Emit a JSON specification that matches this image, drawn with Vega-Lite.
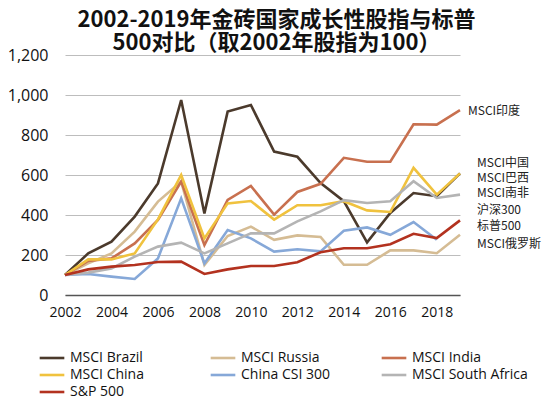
{
  "$schema": "https://vega.github.io/schema/vega-lite/v6.json",
  "autosize": {"type": "none"},
  "width": 395,
  "height": 240,
  "padding": {"left": 65, "top": 55, "right": 93, "bottom": 102},
  "background": "white",
  "config": {
    "font": "Open Sans, Noto Sans CJK SC",
    "view": {"stroke": null},
    "axisX": {
      "title": null, "values": [2002, 2004, 2006, 2008, 2010, 2012, 2014, 2016, 2018],
      "format": "d", "grid": false, "ticks": false, "domainColor": "#555555", "domainWidth": 1.5,
      "labelFontSize": 14, "labelColor": "#111111", "labelPadding": 10, "labelFont": "Open Sans",
      "labelOverlap": false, "labelFlush": false
    },
    "axisY": {
      "title": null, "values": [0, 200, 400, 600, 800, 1000, 1200], "format": ",d",
      "domain": false, "ticks": false, "grid": true, "gridColor": "#bdbdbd", "gridWidth": 1.2,
      "labelFontSize": 16, "labelColor": "#111111", "labelPadding": 17, "labelFont": "Open Sans",
      "labelOverlap": false, "labelFlush": false
    }
  },
  "title": {
    "text": ["2002-2019年金砖国家成长性股指与标普", "500对比（取2002年股指为100）"],
    "font": "Noto Sans CJK SC",
    "fontSize": 22,
    "fontWeight": "bold",
    "color": "#111111",
    "anchor": "middle",
    "frame": "group",
    "dx": 14,
    "offset": -8,
    "lineHeight": 23
  },
  "datasets": {
    "series": [
      {"series": "MSCI Brazil", "year": 2002, "value": 100},
      {"series": "MSCI Brazil", "year": 2003, "value": 208},
      {"series": "MSCI Brazil", "year": 2004, "value": 267},
      {"series": "MSCI Brazil", "year": 2005, "value": 392},
      {"series": "MSCI Brazil", "year": 2006, "value": 558},
      {"series": "MSCI Brazil", "year": 2007, "value": 975},
      {"series": "MSCI Brazil", "year": 2008, "value": 408},
      {"series": "MSCI Brazil", "year": 2009, "value": 917},
      {"series": "MSCI Brazil", "year": 2010, "value": 950},
      {"series": "MSCI Brazil", "year": 2011, "value": 717},
      {"series": "MSCI Brazil", "year": 2012, "value": 691},
      {"series": "MSCI Brazil", "year": 2013, "value": 560},
      {"series": "MSCI Brazil", "year": 2014, "value": 469},
      {"series": "MSCI Brazil", "year": 2015, "value": 263},
      {"series": "MSCI Brazil", "year": 2016, "value": 410},
      {"series": "MSCI Brazil", "year": 2017, "value": 510},
      {"series": "MSCI Brazil", "year": 2018, "value": 494},
      {"series": "MSCI Brazil", "year": 2019, "value": 608},
      {"series": "MSCI Russia", "year": 2002, "value": 100},
      {"series": "MSCI Russia", "year": 2003, "value": 158},
      {"series": "MSCI Russia", "year": 2004, "value": 208},
      {"series": "MSCI Russia", "year": 2005, "value": 317},
      {"series": "MSCI Russia", "year": 2006, "value": 467},
      {"series": "MSCI Russia", "year": 2007, "value": 567},
      {"series": "MSCI Russia", "year": 2008, "value": 150},
      {"series": "MSCI Russia", "year": 2009, "value": 295},
      {"series": "MSCI Russia", "year": 2010, "value": 342},
      {"series": "MSCI Russia", "year": 2011, "value": 276},
      {"series": "MSCI Russia", "year": 2012, "value": 298},
      {"series": "MSCI Russia", "year": 2013, "value": 290},
      {"series": "MSCI Russia", "year": 2014, "value": 151},
      {"series": "MSCI Russia", "year": 2015, "value": 151},
      {"series": "MSCI Russia", "year": 2016, "value": 223},
      {"series": "MSCI Russia", "year": 2017, "value": 223},
      {"series": "MSCI Russia", "year": 2018, "value": 209},
      {"series": "MSCI Russia", "year": 2019, "value": 301},
      {"series": "MSCI India", "year": 2002, "value": 100},
      {"series": "MSCI India", "year": 2003, "value": 170},
      {"series": "MSCI India", "year": 2004, "value": 183},
      {"series": "MSCI India", "year": 2005, "value": 258},
      {"series": "MSCI India", "year": 2006, "value": 375},
      {"series": "MSCI India", "year": 2007, "value": 567},
      {"series": "MSCI India", "year": 2008, "value": 250},
      {"series": "MSCI India", "year": 2009, "value": 475},
      {"series": "MSCI India", "year": 2010, "value": 545},
      {"series": "MSCI India", "year": 2011, "value": 402},
      {"series": "MSCI India", "year": 2012, "value": 515},
      {"series": "MSCI India", "year": 2013, "value": 556},
      {"series": "MSCI India", "year": 2014, "value": 686},
      {"series": "MSCI India", "year": 2015, "value": 666},
      {"series": "MSCI India", "year": 2016, "value": 666},
      {"series": "MSCI India", "year": 2017, "value": 854},
      {"series": "MSCI India", "year": 2018, "value": 852},
      {"series": "MSCI India", "year": 2019, "value": 924},
      {"series": "MSCI China", "year": 2002, "value": 100},
      {"series": "MSCI China", "year": 2003, "value": 178},
      {"series": "MSCI China", "year": 2004, "value": 178},
      {"series": "MSCI China", "year": 2005, "value": 208},
      {"series": "MSCI China", "year": 2006, "value": 378},
      {"series": "MSCI China", "year": 2007, "value": 600},
      {"series": "MSCI China", "year": 2008, "value": 283},
      {"series": "MSCI China", "year": 2009, "value": 458},
      {"series": "MSCI China", "year": 2010, "value": 470},
      {"series": "MSCI China", "year": 2011, "value": 377},
      {"series": "MSCI China", "year": 2012, "value": 449},
      {"series": "MSCI China", "year": 2013, "value": 449},
      {"series": "MSCI China", "year": 2014, "value": 469},
      {"series": "MSCI China", "year": 2015, "value": 423},
      {"series": "MSCI China", "year": 2016, "value": 415},
      {"series": "MSCI China", "year": 2017, "value": 636},
      {"series": "MSCI China", "year": 2018, "value": 502},
      {"series": "MSCI China", "year": 2019, "value": 608},
      {"series": "China CSI 300", "year": 2002, "value": 100},
      {"series": "China CSI 300", "year": 2003, "value": 105},
      {"series": "China CSI 300", "year": 2004, "value": 92},
      {"series": "China CSI 300", "year": 2005, "value": 80},
      {"series": "China CSI 300", "year": 2006, "value": 183},
      {"series": "China CSI 300", "year": 2007, "value": 483},
      {"series": "China CSI 300", "year": 2008, "value": 158},
      {"series": "China CSI 300", "year": 2009, "value": 325},
      {"series": "China CSI 300", "year": 2010, "value": 283},
      {"series": "China CSI 300", "year": 2011, "value": 217},
      {"series": "China CSI 300", "year": 2012, "value": 229},
      {"series": "China CSI 300", "year": 2013, "value": 218},
      {"series": "China CSI 300", "year": 2014, "value": 321},
      {"series": "China CSI 300", "year": 2015, "value": 338},
      {"series": "China CSI 300", "year": 2016, "value": 301},
      {"series": "China CSI 300", "year": 2017, "value": 365},
      {"series": "China CSI 300", "year": 2018, "value": 276},
      {"series": "MSCI South Africa", "year": 2002, "value": 100},
      {"series": "MSCI South Africa", "year": 2003, "value": 112},
      {"series": "MSCI South Africa", "year": 2004, "value": 133},
      {"series": "MSCI South Africa", "year": 2005, "value": 192},
      {"series": "MSCI South Africa", "year": 2006, "value": 242},
      {"series": "MSCI South Africa", "year": 2007, "value": 262},
      {"series": "MSCI South Africa", "year": 2008, "value": 208},
      {"series": "MSCI South Africa", "year": 2009, "value": 258},
      {"series": "MSCI South Africa", "year": 2010, "value": 308},
      {"series": "MSCI South Africa", "year": 2011, "value": 308},
      {"series": "MSCI South Africa", "year": 2012, "value": 368},
      {"series": "MSCI South Africa", "year": 2013, "value": 418},
      {"series": "MSCI South Africa", "year": 2014, "value": 474},
      {"series": "MSCI South Africa", "year": 2015, "value": 460},
      {"series": "MSCI South Africa", "year": 2016, "value": 469},
      {"series": "MSCI South Africa", "year": 2017, "value": 569},
      {"series": "MSCI South Africa", "year": 2018, "value": 485},
      {"series": "MSCI South Africa", "year": 2019, "value": 502},
      {"series": "S&P 500", "year": 2002, "value": 100},
      {"series": "S&P 500", "year": 2003, "value": 128},
      {"series": "S&P 500", "year": 2004, "value": 142},
      {"series": "S&P 500", "year": 2005, "value": 150},
      {"series": "S&P 500", "year": 2006, "value": 165},
      {"series": "S&P 500", "year": 2007, "value": 167},
      {"series": "S&P 500", "year": 2008, "value": 105},
      {"series": "S&P 500", "year": 2009, "value": 128},
      {"series": "S&P 500", "year": 2010, "value": 145},
      {"series": "S&P 500", "year": 2011, "value": 145},
      {"series": "S&P 500", "year": 2012, "value": 164},
      {"series": "S&P 500", "year": 2013, "value": 214},
      {"series": "S&P 500", "year": 2014, "value": 234},
      {"series": "S&P 500", "year": 2015, "value": 234},
      {"series": "S&P 500", "year": 2016, "value": 254},
      {"series": "S&P 500", "year": 2017, "value": 306},
      {"series": "S&P 500", "year": 2018, "value": 285},
      {"series": "S&P 500", "year": 2019, "value": 373}
    ],
    "labels": [
      {"label": "MSCI印度", "year": 2019, "labelValue": 919, "kind": "india"},
      {"label": "MSCI中国", "year": 2019, "labelValue": 660, "kind": "other"},
      {"label": "MSCI巴西", "year": 2019, "labelValue": 587, "kind": "other"},
      {"label": "MSCI南非", "year": 2019, "labelValue": 512, "kind": "other"},
      {"label": "沪深300", "year": 2019, "labelValue": 427, "kind": "other"},
      {"label": "标普500", "year": 2019, "labelValue": 346, "kind": "other"},
      {"label": "MSCI俄罗斯", "year": 2019, "labelValue": 256, "kind": "other"}
    ]
  },
  "layer": [
    {
      "data": {"name": "series"},
      "mark": {"type": "line", "strokeWidth": 2.6},
      "encoding": {
        "x": {
          "field": "year", "type": "quantitative",
          "scale": {"domain": [2002, 2019], "nice": false, "zero": false}
        },
        "y": {
          "field": "value", "type": "quantitative",
          "scale": {"domain": [0, 1200], "nice": false}
        },
        "color": {
          "field": "series", "type": "nominal",
          "scale": {
            "domain": ["MSCI Brazil", "MSCI Russia", "MSCI India", "MSCI China", "China CSI 300", "MSCI South Africa", "S&P 500"],
            "range": ["#4b3a2c", "#d5bc94", "#c8704f", "#f0c23e", "#86a8d8", "#b4b4b4", "#b3321f"]
          },
          "legend": {
            "title": null, "orient": "none", "legendX": -23, "legendY": 293,
            "direction": "horizontal", "columns": 3, "gridAlign": "all", "columnPadding": 19, "rowPadding": 0,
            "symbolType": "M-1.45,0H1.45", "symbolSize": 289, "symbolStrokeWidth": 2.6,
            "labelFontSize": 14, "labelColor": "#111111", "labelFont": "Open Sans", "labelOffset": 8, "labelLimit": 200
          }
        },
        "order": {"field": "year", "type": "quantitative"}
      }
    },
    {
      "data": {"name": "labels"},
      "transform": [{"filter": "datum.kind == 'india'"}],
      "mark": {"type": "text", "align": "left", "baseline": "middle", "dx": 8, "fontSize": 12, "font": "Noto Sans CJK SC", "color": "#222222"},
      "encoding": {
        "x": {"field": "year", "type": "quantitative"},
        "y": {"field": "labelValue", "type": "quantitative"},
        "text": {"field": "label"}
      }
    },
    {
      "data": {"name": "labels"},
      "transform": [{"filter": "datum.kind == 'other'"}],
      "mark": {"type": "text", "align": "left", "baseline": "middle", "dx": 17, "fontSize": 12, "font": "Noto Sans CJK SC", "color": "#222222"},
      "encoding": {
        "x": {"field": "year", "type": "quantitative"},
        "y": {"field": "labelValue", "type": "quantitative"},
        "text": {"field": "label"}
      }
    }
  ]
}
